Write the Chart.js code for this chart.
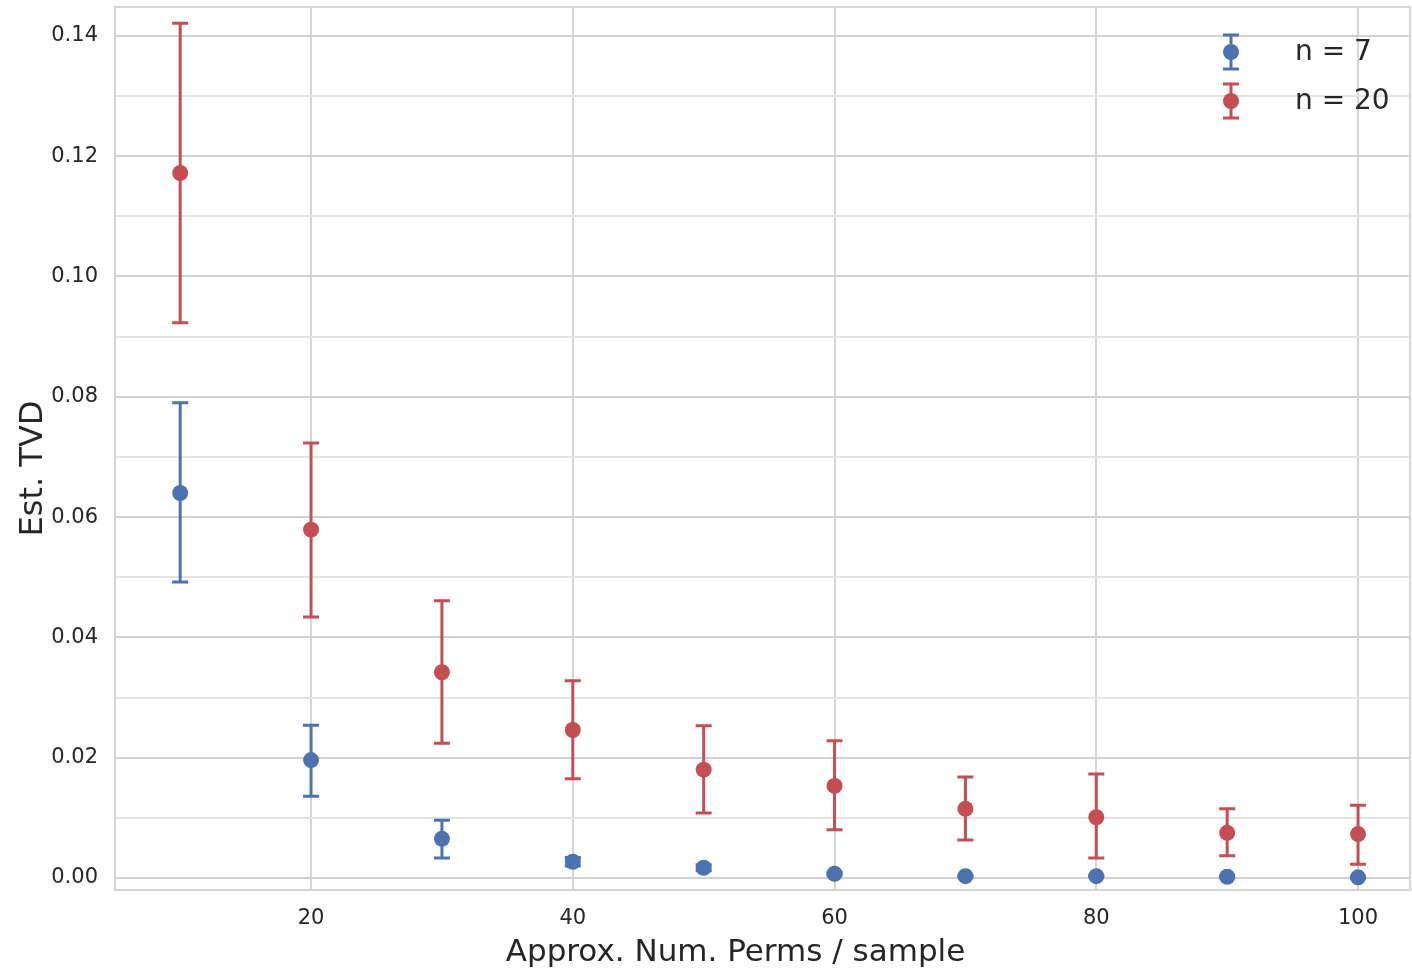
<!DOCTYPE html>
<html>
<head>
<meta charset="utf-8">
<script src="https://cdn.jsdelivr.net/npm/chart.js@4"></script>
<style>
  html, body { margin: 0; padding: 0; background: #fff; overflow: hidden; }
  #wrap { position: relative; width: 1412px; height: 969px; }
  #tvd-chart { display: block; }
</style>
</head>
<body>
<div id="wrap"><canvas id="tvd-chart"></canvas></div>
<script>
// approx number of permutations per sample
const perms = [10, 20, 30, 40, 50, 60, 70, 80, 90, 100];

// n = 7
const meanN7 = [0.0640, 0.0196, 0.0065, 0.0027, 0.0017, 0.0007, 0.0003, 0.0003, 0.0002, 0.0001];
const lowN7  = [0.0492, 0.0136, 0.0033, 0.0020, 0.0012, 0.0005, 0.0002, 0.0002, 0.0001, 0.0000];
const highN7 = [0.0790, 0.0254, 0.0096, 0.0034, 0.0022, 0.0009, 0.0004, 0.0004, 0.0003, 0.0002];

// n = 20
const meanN20 = [0.1172, 0.0579, 0.0342, 0.0246, 0.0180, 0.0153, 0.0115, 0.0101, 0.0075, 0.0073];
const lowN20  = [0.0923, 0.0434, 0.0224, 0.0165, 0.0108, 0.0080, 0.0063, 0.0033, 0.0037, 0.0023];
const highN20 = [0.1421, 0.0723, 0.0461, 0.0328, 0.0253, 0.0228, 0.0168, 0.0173, 0.0115, 0.0121];

const seriesLabels = ['n = 7', 'n = 20'];
const xTitle = 'Approx. Num. Perms / sample';
const yTitle = 'Est. TVD';

const blue = '#4c72b0';
const red = '#c44e52';
const textColor = '#262626';
const fontFamily = '"DejaVu Sans", Arial, sans-serif';

const toPoints = (xs, ys) => xs.map((x, i) => ({ x: x, y: ys[i] }));

// error bars drawn from the scales, under the points
const errorBars = {
    id: 'errorBars',
    beforeDatasetsDraw(chart) {
        const ctx = chart.ctx;
        const xs = chart.scales.x;
        const ys = chart.scales.y;
        chart.data.datasets.forEach((ds) => {
            ctx.save();
            ctx.strokeStyle = ds.borderColor;
            ctx.lineWidth = 3;
            ds.data.forEach((p, i) => {
                const x = xs.getPixelForValue(p.x);
                const y0 = ys.getPixelForValue(ds.errLow[i]);
                const y1 = ys.getPixelForValue(ds.errHigh[i]);
                ctx.beginPath();
                ctx.moveTo(x, y0); ctx.lineTo(x, y1);
                ctx.moveTo(x - 8, y0); ctx.lineTo(x + 8, y0);
                ctx.moveTo(x - 8, y1); ctx.lineTo(x + 8, y1);
                ctx.stroke();
            });
            ctx.restore();
        });
    }
};

// light frame round the plot area
const frame = {
    id: 'frame',
    beforeDatasetsDraw(chart) {
        const a = chart.chartArea;
        const ctx = chart.ctx;
        ctx.save();
        ctx.strokeStyle = '#d5d5d5';
        ctx.lineWidth = 2;
        ctx.strokeRect(a.left, a.top, a.right - a.left, a.bottom - a.top);
        ctx.restore();
    }
};

// axis titles, placed a bit left/below of centre like the original
const axisTitles = {
    id: 'axisTitles',
    afterDraw(chart) {
        const ctx = chart.ctx;
        const a = chart.chartArea;
        ctx.save();
        ctx.fillStyle = textColor;
        ctx.font = '31px ' + fontFamily;
        ctx.textAlign = 'center';
        ctx.textBaseline = 'alphabetic';
        ctx.fillText(xTitle, (a.left + a.right) / 2 - 27, a.bottom + 71);
        ctx.translate(a.left - 73, (a.top + a.bottom) / 2 + 20);
        ctx.rotate(-Math.PI / 2);
        ctx.font = '32px ' + fontFamily;
        ctx.fillText(yTitle, 0, 0);
        ctx.restore();
    }
};

// legend with errorbar markers, top right inside the axes
const errLegend = {
    id: 'errLegend',
    afterDatasetsDraw(chart) {
        const ctx = chart.ctx;
        const a = chart.chartArea;
        const mx = a.right - 179;
        const tx = a.right - 115;
        chart.data.datasets.forEach((ds, i) => {
            const cy = a.top + 45 + i * 49;
            ctx.save();
            ctx.strokeStyle = ds.borderColor;
            ctx.fillStyle = ds.backgroundColor;
            ctx.lineWidth = 3;
            ctx.beginPath();
            ctx.moveTo(mx, cy - 17); ctx.lineTo(mx, cy + 17);
            ctx.moveTo(mx - 8, cy - 17); ctx.lineTo(mx + 8, cy - 17);
            ctx.moveTo(mx - 8, cy + 17); ctx.lineTo(mx + 8, cy + 17);
            ctx.stroke();
            ctx.beginPath();
            ctx.arc(mx, cy, 8, 0, Math.PI * 2);
            ctx.fill();
            ctx.fillStyle = textColor;
            ctx.font = '28px ' + fontFamily;
            ctx.textBaseline = 'middle';
            ctx.fillText(ds.label, tx, cy + 1);
            ctx.restore();
        });
    }
};

var ctx = document.getElementById('tvd-chart').getContext('2d');
var tvdChart = new Chart(ctx, {
    type: 'scatter',
    data: {
        datasets: [
            {
                label: seriesLabels[0],
                data: toPoints(perms, meanN7),
                errLow: lowN7,
                errHigh: highN7,
                borderColor: blue,
                backgroundColor: blue,
                pointRadius: 8,
                pointBorderWidth: 0
            },
            {
                label: seriesLabels[1],
                data: toPoints(perms, meanN20),
                errLow: lowN20,
                errHigh: highN20,
                borderColor: red,
                backgroundColor: red,
                pointRadius: 8,
                pointBorderWidth: 0
            }
        ]
    },
    options: {
        responsive: true,
        maintainAspectRatio: false,
        animation: false,
        layout: { autoPadding: false, padding: { top: 7, right: 2, left: 0, bottom: 0 } },
        plugins: {
            legend: { display: false },
            tooltip: { enabled: false }
        },
        scales: {
            x: {
                type: 'linear',
                min: 5.02,
                max: 103.97,
                afterFit: (scale) => {
                    scale.height = 79;
                    scale.paddingLeft = 0;
                    scale.paddingRight = 0;
                },
                border: { display: false },
                grid: { color: '#d5d5d5', lineWidth: 2, drawTicks: false },
                ticks: {
                    stepSize: 20,
                    includeBounds: false,
                    padding: 16,
                    color: textColor,
                    font: { size: 21, family: fontFamily }
                }
            },
            y: {
                type: 'linear',
                min: -0.002,
                max: 0.1448,
                afterFit: (scale) => {
                    scale.width = 115;
                    scale.paddingTop = 0;
                    scale.paddingBottom = 0;
                },
                border: { display: false },
                grid: {
                    drawTicks: false,
                    lineWidth: 2,
                    color: (c) => (c.tick && Math.round(c.tick.value * 100) % 2 === 0) ? '#d2d2d2' : '#e4e4e4'
                },
                ticks: {
                    stepSize: 0.01,
                    includeBounds: false,
                    padding: 17,
                    color: textColor,
                    font: { size: 21, family: fontFamily },
                    callback: (v) => (Math.round(v * 100) % 2 === 0) ? v.toFixed(2) : ''
                }
            }
        }
    },
    plugins: [frame, errorBars, errLegend, axisTitles]
});
</script>
</body>
</html>
